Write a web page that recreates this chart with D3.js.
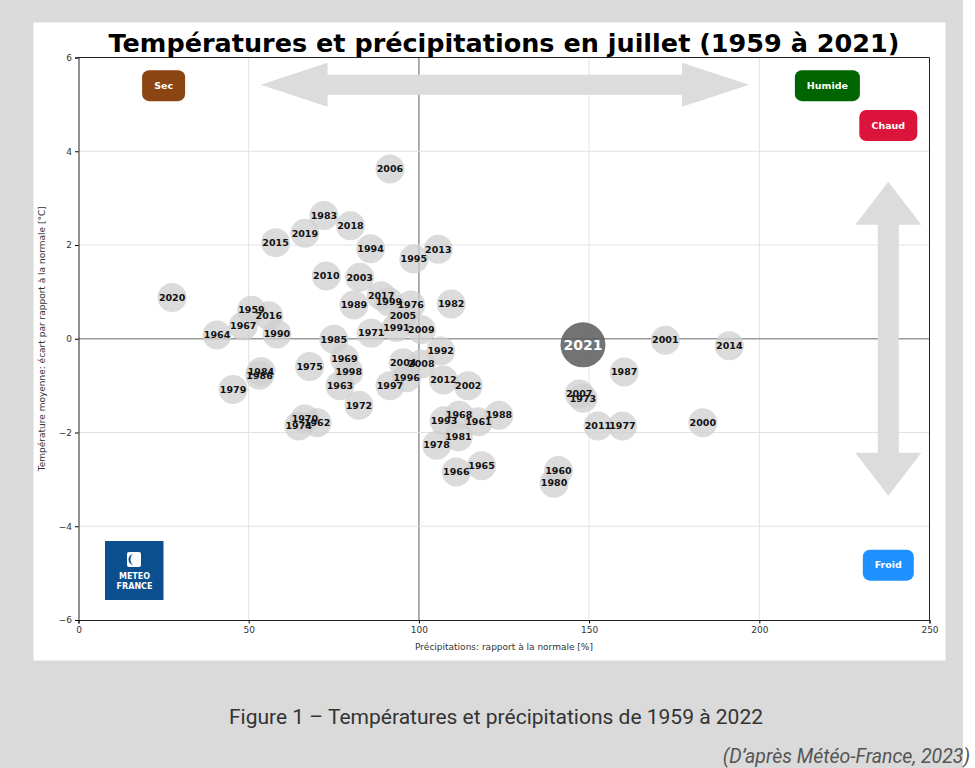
<!DOCTYPE html>
<html>
<head>
<meta charset="utf-8">
<script src="https://cdn.jsdelivr.net/npm/d3@7"></script>
<style>
body { margin: 0; background: #fff; }
svg text { font-family: "DejaVu Sans", sans-serif; }
.caption { font-family: Roboto, "Noto Sans", sans-serif !important; }
</style>
</head>
<body>
<div id="chart"></div>
<script>
// values (precipitation % of normal, temperature anomaly °C)
var years = [2006, 1983, 2018, 2019, 2015, 1994, 2013, 1995, 2010, 2003,
  2020, 2017, 1999, 1976, 1989, 1982, 1959, 2016, 2005, 1967,
  1991, 2009, 1971, 1964, 1990, 1985, 1992, 1969, 2004, 2008,
  1975, 1998, 1996, 1984, 1986, 1963, 1997, 2012, 2002, 1979,
  1972, 1968, 1988, 1993, 1961, 1970, 1974, 1962, 1981, 1978,
  1966, 1965, 2001, 2014, 1987, 2007, 1973, 2011, 1977, 2000,
  1960, 1980];
var precip = [91.5, 72.1, 79.9, 66.5, 57.9, 85.8, 105.7, 98.5, 72.8, 82.6,
  27.5, 88.9, 91.2, 97.6, 80.9, 109.5, 50.8, 55.9, 95.3, 48.4,
  93.4, 100.7, 86.0, 40.7, 58.3, 75.0, 106.4, 78.1, 95.4, 100.7,
  67.9, 79.4, 96.4, 53.6, 53.2, 76.8, 91.5, 107.2, 114.5, 45.4,
  82.4, 111.8, 123.5, 107.4, 117.5, 66.5, 64.7, 70.1, 111.6, 105.2,
  111.0, 118.4, 172.4, 191.2, 160.3, 147.1, 148.2, 152.6, 159.8, 183.4,
  141.0, 139.7];
var temp = [3.62, 2.63, 2.41, 2.25, 2.05, 1.92, 1.91, 1.70, 1.34, 1.31,
  0.88, 0.92, 0.79, 0.72, 0.72, 0.74, 0.61, 0.49, 0.49, 0.27,
  0.24, 0.19, 0.12, 0.08, 0.10, -0.01, -0.26, -0.42, -0.51, -0.54,
  -0.59, -0.71, -0.83, -0.70, -0.78, -1.00, -1.00, -0.88, -1.00, -1.08,
  -1.42, -1.63, -1.63, -1.75, -1.77, -1.71, -1.86, -1.79, -2.09, -2.27,
  -2.84, -2.71, -0.03, -0.15, -0.71, -1.18, -1.27, -1.86, -1.86, -1.79,
  -2.81, -3.08];
var current = {year: 2021, precip: 148.2, temp: -0.13};

var xTicks = [0, 50, 100, 150, 200, 250];
var yTicks = [-6, -4, -2, 0, 2, 4, 6];

var labels = [
  {text: "Sec", x: 25, y: 5.4, color: "#8b4513", w: 43},
  {text: "Humide", x: 220, y: 5.4, color: "#006400", w: 65},
  {text: "Chaud", x: 237.9, y: 4.55, color: "#dc143c", w: 58},
  {text: "Froid", x: 237.9, y: -4.83, color: "#1e90ff", w: 51}
];

var margin = {top: 57.5, left: 78.5},
    width = 851,
    height = 562.5;

var svg = d3.select("#chart").append("svg")
    .attr("width", 975)
    .attr("height", 768);

// page background and white figure panel
svg.append("rect").attr("x", 0).attr("y", 0).attr("width", 963).attr("height", 768).attr("fill", "#dadada");
svg.append("rect").attr("x", 33.5).attr("y", 22.5).attr("width", 912).attr("height", 638).attr("fill", "#ffffff");

var x = d3.scaleLinear().domain([0, 250]).range([0, width]);
var y = d3.scaleLinear().domain([-6, 6]).range([height, 0]);

var g = svg.append("g")
    .attr("transform", "translate(" + margin.left + "," + margin.top + ")");

// grid
g.selectAll(".gx").data(xTicks.slice(1, -1)).enter().append("line")
    .attr("x1", function (d) { return x(d); })
    .attr("x2", function (d) { return x(d); })
    .attr("y1", 0).attr("y2", height)
    .attr("stroke", function (d) { return d == 100 ? "#9a9a9a" : "#e2e2e2"; })
    .attr("stroke-width", function (d) { return d == 100 ? 1.6 : 1; });
g.selectAll(".gy").data(yTicks.slice(1, -1)).enter().append("line")
    .attr("y1", function (d) { return y(d); })
    .attr("y2", function (d) { return y(d); })
    .attr("x1", 0).attr("x2", width)
    .attr("stroke", function (d) { return d == 0 ? "#9a9a9a" : "#e2e2e2"; })
    .attr("stroke-width", function (d) { return d == 0 ? 1.6 : 1; });

// big arrows
var arrowColor = "#dcdcdc";
function hArrow(x0, x1, yy) {
  var a = x(x0), b = x(x1), c = y(yy);
  var hl = 67, hw = 22, sw = 10;
  var pts = [[a, c], [a + hl, c - hw], [a + hl, c - sw], [b - hl, c - sw], [b - hl, c - hw], [b, c],
    [b - hl, c + hw], [b - hl, c + sw], [a + hl, c + sw], [a + hl, c + hw]];
  g.append("path").attr("d", d3.line()(pts) + "Z").attr("fill", arrowColor);
}
function vArrow(xx, y0, y1) {
  var c = x(xx), a = y(y1), b = y(y0);
  var hl = 43, hw = 33, sw = 10.5;
  var pts = [[c, a], [c + hw, a + hl], [c + sw, a + hl], [c + sw, b - hl], [c + hw, b - hl], [c, b],
    [c - hw, b - hl], [c - sw, b - hl], [c - sw, a + hl], [c - hw, a + hl]];
  g.append("path").attr("d", d3.line()(pts) + "Z").attr("fill", arrowColor);
}
hArrow(53.5, 197, 5.42);
vArrow(237.9, -3.35, 3.35);

// year bubbles
var pts = years.map(function (d, i) { return {year: d, p: precip[i], t: temp[i]}; });
g.selectAll(".dot").data(pts).enter().append("circle")
    .attr("cx", function (d) { return x(d.p); })
    .attr("cy", function (d) { return y(d.t); })
    .attr("r", 14.5)
    .attr("fill", "#cfcfcf")
    .attr("fill-opacity", 0.75);
g.selectAll(".lab").data(pts).enter().append("text")
    .attr("x", function (d) { return x(d.p); })
    .attr("y", function (d) { return y(d.t); })
    .attr("dy", "0.35em")
    .attr("text-anchor", "middle")
    .attr("font-size", "9.5px")
    .attr("font-weight", "bold")
    .attr("fill", "#111")
    .text(function (d) { return d.year; });

g.append("circle")
    .attr("cx", x(current.precip)).attr("cy", y(current.temp))
    .attr("r", 22.5)
    .attr("fill", "#5a5a5a").attr("fill-opacity", 0.85);
g.append("text")
    .attr("x", x(current.precip)).attr("y", y(current.temp))
    .attr("dy", "0.36em")
    .attr("text-anchor", "middle")
    .attr("font-size", "14px")
    .attr("font-weight", "bold")
    .attr("fill", "#fff")
    .text(current.year);

// coloured tags
labels.forEach(function (l) {
  g.append("rect")
      .attr("x", x(l.x) - l.w / 2).attr("y", y(l.y) - 15.5)
      .attr("width", l.w).attr("height", 31)
      .attr("rx", 7).attr("fill", l.color);
  g.append("text")
      .attr("x", x(l.x)).attr("y", y(l.y))
      .attr("dy", "0.35em").attr("text-anchor", "middle")
      .attr("font-size", "9.5px").attr("font-weight", "bold")
      .attr("fill", "#fff")
      .text(l.text);
});

// Météo-France logo block
var logo = g.append("g").attr("transform", "translate(" + (105 - margin.left) + "," + (541 - margin.top) + ")");
logo.append("rect").attr("width", 58.5).attr("height", 59).attr("fill", "#0b4f8f");
logo.append("rect").attr("x", 22).attr("y", 11).attr("width", 14).attr("height", 15).attr("rx", 2).attr("fill", "#fff");
logo.append("path").attr("d", "M29,13 A5.5,5.5 0 0,0 29,24 A3.5,5.5 0 0,1 29,13Z").attr("fill", "#0b4f8f");
logo.append("text").attr("x", 29.5).attr("y", 38).attr("text-anchor", "middle")
    .attr("font-size", "8px").attr("font-weight", "bold").attr("fill", "#fff").text("METEO");
logo.append("text").attr("x", 29.5).attr("y", 47.5).attr("text-anchor", "middle")
    .attr("font-size", "8px").attr("font-weight", "bold").attr("fill", "#fff").text("FRANCE");

// axes
var xAxis = g.append("g")
    .attr("transform", "translate(0," + height + ")")
    .call(d3.axisBottom(x).tickValues(xTicks).tickSize(3.5).tickPadding(3));
var yAxis = g.append("g")
    .call(d3.axisLeft(y).tickValues(yTicks).tickSize(3.5).tickPadding(3)
      .tickFormat(function (d) { return d < 0 ? "\u2212" + Math.abs(d) : d; }));
g.selectAll(".tick text").attr("font-size", "9px").attr("fill", "#333").style("font-family", "DejaVu Sans");
g.selectAll(".domain").attr("stroke", "#222");
g.append("line").attr("x1", width).attr("x2", width).attr("y1", 0).attr("y2", height).attr("stroke", "#222");
g.append("line").attr("x1", 0).attr("x2", width).attr("y1", 0).attr("y2", 0).attr("stroke", "#222");

g.append("text")
    .attr("x", width / 2).attr("y", height + 30)
    .attr("text-anchor", "middle").attr("font-size", "9px").attr("fill", "#333")
    .text("Précipitations: rapport à la normale [%]");
g.append("text")
    .attr("transform", "translate(" + (45 - margin.left) + "," + (height / 2) + ") rotate(-90)")
    .attr("text-anchor", "middle").attr("font-size", "9px").attr("fill", "#333")
    .text("Température moyenne: écart par rapport à la normale [°C]");

g.append("text")
    .attr("x", width / 2).attr("y", -6)
    .attr("text-anchor", "middle").attr("font-size", "25.5px").attr("font-weight", "bold")
    .attr("fill", "#000")
    .text("Températures et précipitations en juillet (1959 à 2021)");

// caption below the figure
svg.append("text").attr("class", "caption")
    .attr("x", 496).attr("y", 724)
    .attr("text-anchor", "middle").attr("font-size", "21px").attr("fill", "#333")
    .text("Figure 1 – Températures et précipitations de 1959 à 2022");
svg.append("text").attr("class", "caption")
    .attr("x", 970).attr("y", 763)
    .attr("text-anchor", "end").attr("font-size", "19.5px").attr("font-style", "italic").attr("fill", "#555")
    .text("(D’après Météo-France, 2023)");
</script>
</body>
</html>
